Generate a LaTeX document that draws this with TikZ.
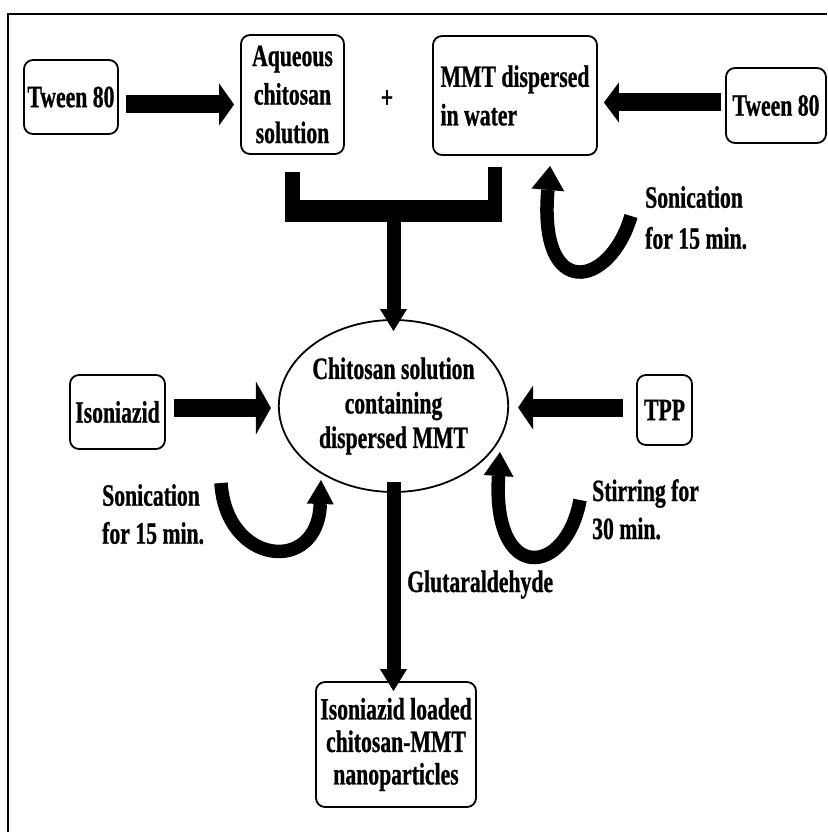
\documentclass[tikz,border=0pt]{standalone}
\usepackage{fontspec}
\setmainfont{Liberation Serif}[FakeStretch=0.7, BoldFeatures={FakeBold=0.8}]
\usetikzlibrary{arrows.meta,shapes.geometric,calc}

\tikzset{
  txt/.style={font=\bfseries\fontsize{31}{#1}\selectfont},
  txt/.default=38.5pt,
  box/.style={draw, line width=1.8pt, rounded corners=9pt, inner sep=0pt,
    align=center, txt},
  lbl/.style={inner sep=0pt, anchor=north west, align=left, txt=#1},
  lbl/.default=38pt,
  hblk/.style={line width=18pt,
    -{Triangle[length=15pt,width=#1,line width=0pt]}},
  hblk/.default=42pt,
  vblk/.style={line width=14pt,
    -{Triangle[length=22pt,width=27pt,line width=0pt]}},
  curv/.style={line width=13.5pt,
    -{Triangle[length=24pt,width=#1,line width=0pt]}},
  curv/.default=30pt,
}

\begin{document}
\begin{tikzpicture}[x=1pt, y=-1pt]
  \useasboundingbox (0,0) rectangle (827,832);

  % frame
  \draw[line width=2pt] (8,832) -- (8,14) -- (827,14);

  % top row
  \node[box, minimum width=94pt, minimum height=74pt] (tweenL) at (71,97) {Tween 80};
  \node[box, minimum width=103pt, minimum height=119pt] (aq) at (292.5,94.5)
    {Aqueous\\chitosan\\solution};
  \node[inner sep=0pt, txt] (plus) at (387,99) {+};
  \node[box, minimum width=164pt, minimum height=119pt, align=left] (mmt) at (515,95.5)
    {MMT dispersed\\in water};
  \node[box, minimum width=100pt, minimum height=75pt] (tweenR) at (776,105.5) {Tween 80};

  \draw[hblk] ([shift={(7,7.5)}]tweenL.east) -- ([shift={(-6,10)}]aq.west);
  \draw[hblk=40pt] ([shift={(-4,-3)}]tweenR.west) -- ([shift={(6,7)}]mmt.east);

  % middle
  \node[ellipse, draw, line width=1.8pt, minimum width=209pt, minimum height=172pt,
    inner sep=0pt, align=center, txt=34.5pt] (ell) at (393.5,406)
    {Chitosan solution\\containing\\dispersed MMT};
  \node[box, minimum width=95pt, minimum height=74pt] (iso) at (117.5,412) {Isoniazid};
  \node[box, minimum width=55pt, minimum height=70pt] (tpp) at (664.5,410) {TPP};

  \draw[hblk=53pt] ([shift={(8,-4)}]iso.east) -- ([shift={(-7,2)}]ell.west);
  \draw[hblk=44pt] ([shift={(-13,-2.5)}]tpp.west) -- ([shift={(9,1.5)}]ell.east);

  % bracket joining the two top boxes
  \fill (285,172) rectangle (300,222);
  \fill (285,200) rectangle (502,222);
  \fill (488,167) rectangle (502,222);
  \coordinate (jn) at (393.5,221);
  \draw[vblk] (jn) -- ([yshift=-12]ell.north);

  % sonication / stirring loops
  \coordinate (a0) at (631,216);
  \coordinate (a1) at (550,166);
  \draw[curv=33pt] (a0) .. controls (610,288) and (538,302) .. (a1);
  \node[lbl=41pt] (son1) at (645,186) {Sonication\\for 15 min.};

  \coordinate (b0) at (221,483);
  \coordinate (b1) at (321,480);
  \draw[curv=27pt] (b0) .. controls (226,565) and (318,575) .. (b1);
  \node[lbl] (son2) at (102,484) {Sonication\\for 15 min.};

  \coordinate (c0) at (580,500);
  \coordinate (c1) at (500,452);
  \draw[curv=30pt] (c0) .. controls (566,577) and (492,584) .. (c1);
  \node[lbl] (stir) at (592,479) {Stirring for\\30 min.};

  % bottom
  \node[box, minimum width=160pt, minimum height=125pt, txt=32.5pt] (fin) at (396,744.5)
    {Isoniazid loaded\\chitosan-MMT\\nanoparticles};
  \draw[vblk] ([yshift=11]ell.south) -- ([yshift=-10]ell.south |- fin.north);
  \node[inner sep=0pt, anchor=base west, txt] (glut) at (407,592) {Glutaraldehyde};
\end{tikzpicture}
\end{document}
